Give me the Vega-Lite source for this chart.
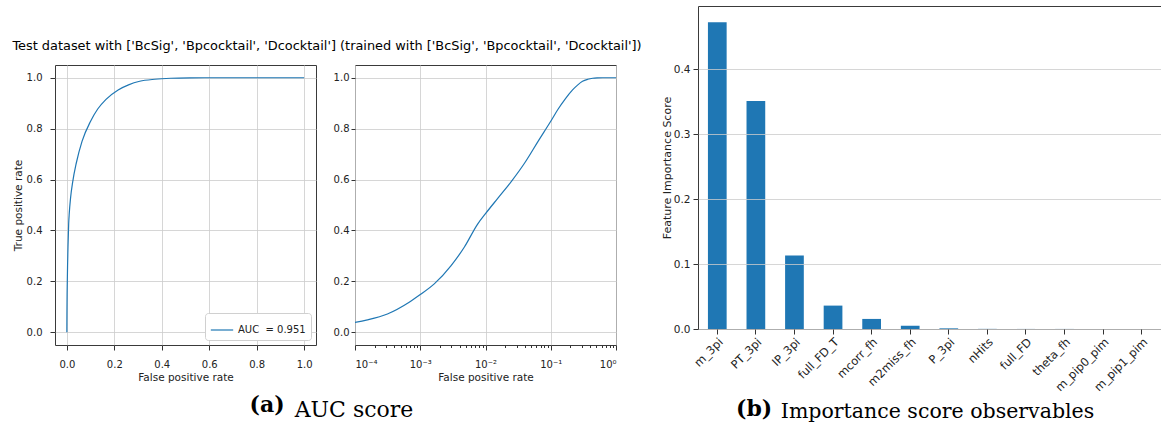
{
  "$schema": "https://vega.github.io/schema/vega-lite/v6.json",
  "background": "white",
  "padding": {"left": 12, "top": 5, "right": 0, "bottom": 0},
  "datasets": {
    "roc": [
      {"fpr": 0, "tpr": 0, "series": "AUC\u00a0\u00a0= 0.951"},
      {"fpr": 0.00001, "tpr": 0.012, "series": "AUC\u00a0\u00a0= 0.951"},
      {"fpr": 0.00003, "tpr": 0.022, "series": "AUC\u00a0\u00a0= 0.951"},
      {"fpr": 0.0001, "tpr": 0.039, "series": "AUC\u00a0\u00a0= 0.951"},
      {"fpr": 0.000155, "tpr": 0.049, "series": "AUC\u00a0\u00a0= 0.951"},
      {"fpr": 0.000314, "tpr": 0.072, "series": "AUC\u00a0\u00a0= 0.951"},
      {"fpr": 0.000677, "tpr": 0.118, "series": "AUC\u00a0\u00a0= 0.951"},
      {"fpr": 0.001, "tpr": 0.148, "series": "AUC\u00a0\u00a0= 0.951"},
      {"fpr": 0.00164, "tpr": 0.19, "series": "AUC\u00a0\u00a0= 0.951"},
      {"fpr": 0.00297, "tpr": 0.262, "series": "AUC\u00a0\u00a0= 0.951"},
      {"fpr": 0.00475, "tpr": 0.335, "series": "AUC\u00a0\u00a0= 0.951"},
      {"fpr": 0.00762, "tpr": 0.426, "series": "AUC\u00a0\u00a0= 0.951"},
      {"fpr": 0.01, "tpr": 0.466, "series": "AUC\u00a0\u00a0= 0.951"},
      {"fpr": 0.0155, "tpr": 0.527, "series": "AUC\u00a0\u00a0= 0.951"},
      {"fpr": 0.0248, "tpr": 0.592, "series": "AUC\u00a0\u00a0= 0.951"},
      {"fpr": 0.0398, "tpr": 0.665, "series": "AUC\u00a0\u00a0= 0.951"},
      {"fpr": 0.0639, "tpr": 0.75, "series": "AUC\u00a0\u00a0= 0.951"},
      {"fpr": 0.1, "tpr": 0.829, "series": "AUC\u00a0\u00a0= 0.951"},
      {"fpr": 0.13, "tpr": 0.877, "series": "AUC\u00a0\u00a0= 0.951"},
      {"fpr": 0.165, "tpr": 0.915, "series": "AUC\u00a0\u00a0= 0.951"},
      {"fpr": 0.216, "tpr": 0.952, "series": "AUC\u00a0\u00a0= 0.951"},
      {"fpr": 0.26, "tpr": 0.972, "series": "AUC\u00a0\u00a0= 0.951"},
      {"fpr": 0.307, "tpr": 0.986, "series": "AUC\u00a0\u00a0= 0.951"},
      {"fpr": 0.37, "tpr": 0.994, "series": "AUC\u00a0\u00a0= 0.951"},
      {"fpr": 0.438, "tpr": 0.998, "series": "AUC\u00a0\u00a0= 0.951"},
      {"fpr": 0.52, "tpr": 0.9995, "series": "AUC\u00a0\u00a0= 0.951"},
      {"fpr": 0.624, "tpr": 1.0, "series": "AUC\u00a0\u00a0= 0.951"},
      {"fpr": 1.0, "tpr": 1.0, "series": "AUC\u00a0\u00a0= 0.951"}
    ],
    "imp": [
      {"feature": "m_3pi", "score": 0.472},
      {"feature": "PT_3pi", "score": 0.351},
      {"feature": "IP_3pi", "score": 0.113},
      {"feature": "full_FD_T", "score": 0.036},
      {"feature": "mcorr_fh", "score": 0.0155},
      {"feature": "m2miss_fh", "score": 0.005},
      {"feature": "P_3pi", "score": 0.001},
      {"feature": "nHits", "score": 0.0002},
      {"feature": "full_FD", "score": 0.0001},
      {"feature": "theta_fh", "score": 0.0001},
      {"feature": "m_pip0_pim", "score": 0.0},
      {"feature": "m_pip1_pim", "score": 0.0}
    ],
    "caption": [{"text": "Test dataset with ['BcSig', 'Bpcocktail', 'Dcocktail'] (trained with ['BcSig', 'Bpcocktail', 'Dcocktail'])"}]
  },
  "config": {
    "view": {"stroke": "#3a3a3a", "strokeWidth": 1},
    "font": "DejaVu Sans",
    "axis": {
      "domain": false,
      "gridColor": "#cccccc",
      "gridWidth": 0.8,
      "tickColor": "#333333",
      "tickSize": 5,
      "labelColor": "#222222",
      "titleColor": "#222222",
      "labelFontSize": 10,
      "titleFontSize": 10.5,
      "titleFontWeight": "normal",
      "labelPadding": 2
    }
  },
  "spacing": 18,
  "resolve": {"scale": {"color": "independent"}, "legend": {"color": "independent"}},
  "hconcat": [
    {
      "title": {"text": "(a)", "orient": "bottom", "anchor": "middle", "font": "DejaVu Serif", "fontSize": 22, "fontWeight": "bold", "color": "#000000", "dx": -60, "dy": -30},
      "resolve": {"scale": {"color": "independent"}, "legend": {"color": "independent"}},
      "hconcat": [
        {
          "title": {"text": "AUC score", "orient": "bottom", "anchor": "middle", "font": "DejaVu Serif", "fontSize": 22, "fontWeight": "normal", "color": "#000000", "dx": 27, "offset": 17},
          "resolve": {"scale": {"color": "independent"}, "legend": {"color": "independent"}},
          "spacing": 0,
          "vconcat": [
            {
              "width": 544,
              "height": 58,
              "view": {"stroke": null},
              "data": {"name": "caption"},
              "mark": {"type": "text", "font": "DejaVu Sans", "fontSize": 12.9, "color": "#000000", "dy": 11},
              "encoding": {"text": {"field": "text"}}
            },
            {
              "spacing": 15,
              "resolve": {"scale": {"color": "independent"}, "legend": {"color": "independent"}},
              "hconcat": [
                {
                  "width": 261,
                  "height": 280,
                  "data": {"name": "roc"},
                  "mark": {"type": "line", "strokeWidth": 1.2, "interpolate": "monotone"},
                  "encoding": {
                    "x": {"field": "fpr", "type": "quantitative", "title": "False positive rate", "scale": {"domain": [-0.05, 1.05], "nice": false, "zero": false}, "axis": {"values": [0, 0.2, 0.4, 0.6, 0.8, 1.0], "format": ".1f", "labelPadding": 9, "titlePadding": 3}},
                    "y": {"field": "tpr", "type": "quantitative", "title": "True positive rate", "scale": {"domain": [-0.05, 1.05], "nice": false, "zero": false}, "axis": {"values": [0, 0.2, 0.4, 0.6, 0.8, 1.0], "format": ".1f", "labelPadding": 8, "titlePadding": 3}},
                    "color": {"field": "series", "type": "nominal", "scale": {"range": ["#1f77b4"]}, "legend": {"title": null, "orient": "bottom-right", "offset": 5, "strokeColor": "#d0d0d0", "fillColor": "#ffffff", "padding": 5, "cornerRadius": 3, "symbolType": "stroke", "symbolSize": 500, "symbolStrokeWidth": 1.2, "labelFontSize": 10, "labelColor": "#222222"}}
                  }
                },
                {
                  "width": 261,
                  "height": 280,
                  "data": {"name": "roc"},
                  "transform": [{"filter": "datum.fpr > 0"}],
                  "mark": {"type": "line", "strokeWidth": 1.2, "color": "#1f77b4", "clip": true, "interpolate": "monotone"},
                  "encoding": {
                    "x": {"field": "fpr", "type": "quantitative", "title": "False positive rate", "scale": {"type": "log", "domain": [0.0001, 1], "nice": false}, "axis": {
                      "values": [0.0001, 0.0002, 0.0003, 0.0004, 0.0005, 0.0006, 0.0007, 0.0008, 0.0009, 0.001, 0.002, 0.003, 0.004, 0.005, 0.006, 0.007, 0.008, 0.009, 0.01, 0.02, 0.03, 0.04, 0.05, 0.06, 0.07, 0.08, 0.09, 0.1, 0.2, 0.3, 0.4, 0.5, 0.6, 0.7, 0.8, 0.9, 1],
                      "labelOverlap": false,
                      "labelPadding": 9,
                      "titlePadding": 3,
                      "labelExpr": "datum.value == 0.0001 ? '10⁻⁴' : datum.value == 0.001 ? '10⁻³' : datum.value == 0.01 ? '10⁻²' : datum.value == 0.1 ? '10⁻¹' : datum.value == 1 ? '10⁰' : ''",
                      "tickSize": {"condition": {"test": "abs(log(datum.value)/LN10 - round(log(datum.value)/LN10)) < 0.001", "value": 5}, "value": 2.5},
                      "gridOpacity": {"condition": {"test": "abs(log(datum.value)/LN10 - round(log(datum.value)/LN10)) < 0.001", "value": 1}, "value": 0}
                    }},
                    "y": {"field": "tpr", "type": "quantitative", "title": null, "scale": {"domain": [-0.05, 1.05], "nice": false, "zero": false}, "axis": {"values": [0, 0.2, 0.4, 0.6, 0.8, 1.0], "format": ".1f", "tickSize": 4, "labelPadding": 2}}
                  }
                }
              ]
            }
          ]
        }
      ]
    },
    {
      "title": {"text": "(b)", "orient": "bottom", "anchor": "middle", "font": "DejaVu Serif", "fontSize": 22, "fontWeight": "bold", "color": "#000000", "dx": -157, "dy": -28},
      "resolve": {"scale": {"color": "independent"}, "legend": {"color": "independent"}},
      "hconcat": [
        {
          "title": {"text": "Importance score observables", "orient": "bottom", "anchor": "middle", "font": "DejaVu Serif", "fontSize": 20.5, "fontWeight": "normal", "color": "#000000", "dx": 8, "offset": 9},
          "width": 463,
          "height": 323,
          "data": {"name": "imp"},
          "mark": {"type": "bar", "color": "#1f77b4"},
          "encoding": {
            "x": {"field": "feature", "type": "nominal", "sort": null, "title": null, "scale": {"paddingInner": 0.515, "paddingOuter": 0.2575}, "axis": {"labelAngle": -45, "labelAlign": "right", "labelBaseline": "top", "bandPosition": 0.5, "labelFontSize": 11.5, "zindex": 1, "labelPadding": 2}},
            "y": {"field": "score", "type": "quantitative", "title": "Feature Importance Score", "scale": {"domain": [0, 0.497], "nice": false}, "axis": {"values": [0, 0.1, 0.2, 0.3, 0.4], "format": ".1f", "labelFontSize": 10.5, "titleFontSize": 11, "zindex": 1, "labelPadding": 3, "titlePadding": 1}}
          }
        }
      ]
    }
  ]
}
